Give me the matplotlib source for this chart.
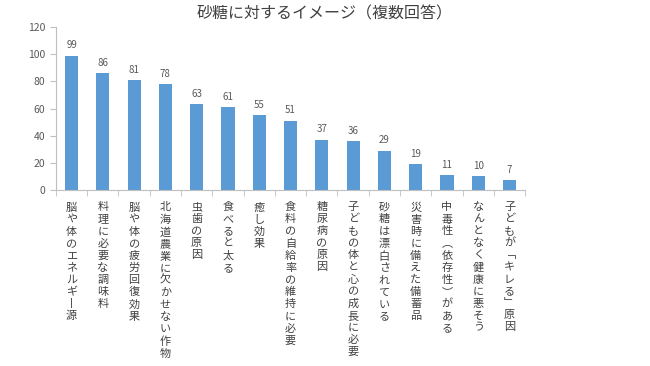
import matplotlib.pyplot as plt
import numpy as np

plt.rcParams['font.family'] = ['Noto Sans CJK JP', 'DejaVu Sans']

# 選択肢と回答数
labels = [
    '脳や体のエネルギー源',
    '料理に必要な調味料',
    '脳や体の疲労回復効果',
    '北海道農業に欠かせない作物',
    '虫歯の原因',
    '食べると太る',
    '癒し効果',
    '食料の自給率の維持に必要',
    '糖尿病の原因',
    '子どもの体と心の成長に必要',
    '砂糖は漂白されている',
    '災害時に備えた備蓄品',
    '中毒性(依存性)がある',
    'なんとなく健康に悪そう',
    '子どもが「キレる」原因',
]
counts = [99, 86, 81, 78, 63, 61, 55, 51, 37, 36, 29, 19, 11, 10, 7]

# 縦書き用の文字置き換え
vert = {'ー': '丨', '「': '﹁', '」': '﹂', '(': '︵', ')': '︶'}


def tategaki(s):
    return '\n'.join(vert.get(c, c) for c in s)


fig = plt.figure(figsize=(6.5, 3.66), dpi=100)
ax = fig.add_axes([0.086, 0.481, 0.722, 0.445])

x = np.arange(len(labels))
ax.bar(x, counts, width=0.42, color='#5B9BD5')

for xi, v in zip(x, counts):
    ax.text(xi, v + 4, str(v), ha='center', va='bottom', fontsize=7, color='#595959')

ax.set_xlim(-0.5, len(labels) - 0.5)
ax.set_ylim(0, 120)
ax.set_yticks(range(0, 121, 20))
ax.tick_params(axis='y', labelsize=7.5, labelcolor='#595959', color='#BFBFBF', length=4)

ax.set_xticks(x)
ax.set_xticklabels([tategaki(l) for l in labels], fontsize=8, color='#404040',
                   linespacing=1.25, va='top')
ax.tick_params(axis='x', which='major', length=0, pad=9)
ax.set_xticks(np.arange(-0.5, len(labels)), minor=True)
ax.tick_params(axis='x', which='minor', length=4, color='#BFBFBF')

for s in ['top', 'right']:
    ax.spines[s].set_visible(False)
ax.spines['left'].set_color('#BFBFBF')
ax.spines['bottom'].set_color('#BFBFBF')

fig.suptitle('砂糖に対するイメージ（複数回答）', fontsize=11.5, color='#404040', y=0.985)

plt.savefig('out.png', dpi=100)
